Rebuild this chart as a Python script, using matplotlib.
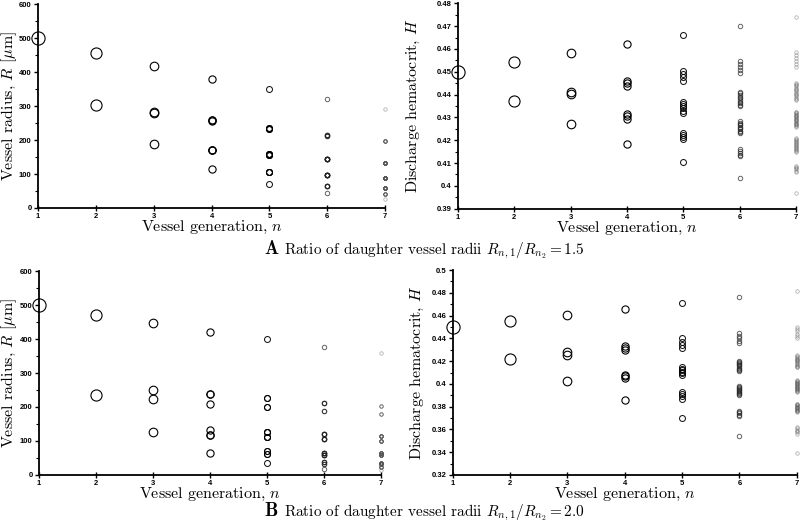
import numpy as np
import matplotlib
matplotlib.use("Agg")
import matplotlib.pyplot as plt
from matplotlib.ticker import MultipleLocator, AutoMinorLocator, FormatStrFormatter

plt.rcParams['mathtext.fontset'] = 'cm'
plt.rcParams['axes.unicode_minus'] = False

generations = [1, 2, 3, 4, 5, 6, 7]

# ---- Panel A (ratio 1.5): vessel radius values and multiplicities per generation
radA_vals = [
    [500],
    [457, 304],
    [417, 281, 278, 188],
    [380, 259, 255, 172, 170, 115],
    [349, 235, 232, 158, 156, 105, 71],
    [320, 214, 212, 143, 97, 65, 43],
    [291, 196, 132, 88, 60, 41, 25],
]
radA_counts = [
    [1],
    [1, 1],
    [1, 1, 1, 1],
    [1, 2, 1, 1, 2, 1],
    [1, 2, 2, 3, 3, 4, 1],
    [1, 3, 2, 10, 10, 5, 1],
    [1, 6, 15, 20, 15, 6, 1],
]

# ---- Panel A: discharge hematocrit per generation
hemA = [
    [0.450],
    [0.4541, 0.4370],
    [0.4582, 0.4411, 0.4401, 0.4271],
    [0.4623, 0.4459, 0.4450, 0.4437, 0.4315, 0.4305, 0.4295, 0.4183],
    [0.4661, 0.4505, 0.4490, 0.4476, 0.4461, 0.4367, 0.4358, 0.4349, 0.4340,
     0.4329, 0.4319, 0.4232, 0.4222, 0.4213, 0.4204, 0.4106],
    [0.4701, 0.4547, 0.4533, 0.4520, 0.4507, 0.4494,
     0.4412, 0.4405, 0.4398, 0.4390, 0.4383, 0.4376, 0.4369, 0.4362, 0.4355, 0.4348,
     0.4283, 0.4277, 0.4271, 0.4265, 0.4259, 0.4254, 0.4248, 0.4242, 0.4237, 0.4232,
     0.4161, 0.4153, 0.4145, 0.4137, 0.4129, 0.4036],
    [0.4739,
     0.4588, 0.4575, 0.4561, 0.4549, 0.4535, 0.4522,
     0.4452, 0.4447, 0.4441, 0.4436, 0.4430, 0.4424, 0.4419, 0.4414, 0.4408,
     0.4403, 0.4397, 0.4392, 0.4386, 0.4381, 0.4376,
     0.4325, 0.4322, 0.4318, 0.4315, 0.4311, 0.4308, 0.4304, 0.4301, 0.4297, 0.4294,
     0.4290, 0.4287, 0.4283, 0.4280, 0.4276, 0.4273, 0.4269, 0.4266, 0.4262, 0.4259,
     0.4208, 0.4204, 0.4200, 0.4196, 0.4192, 0.4187, 0.4183, 0.4179, 0.4175, 0.4171,
     0.4167, 0.4163, 0.4158, 0.4154, 0.4150,
     0.4088, 0.4083, 0.4078, 0.4072, 0.4067, 0.4062,
     0.3970],
]

# ---- Panel B (ratio 2.0): vessel radius values and multiplicities per generation
radB_vals = [
    [500],
    [472, 236],
    [446, 251, 223, 125],
    [421, 238, 209, 133, 119, 66],
    [399, 226, 199, 125, 112, 71, 63, 35],
    [377, 213, 189, 121, 106, 65, 59, 37, 32, 17],
    [358, 202, 179, 114, 100, 64, 58, 36, 32, 23, 14],
]
radB_counts = [
    [1],
    [1, 1],
    [1, 1, 1, 1],
    [1, 2, 1, 1, 2, 1],
    [1, 2, 2, 3, 3, 2, 2, 1],
    [1, 3, 2, 5, 5, 5, 5, 3, 2, 1],
    [1, 3, 3, 8, 7, 10, 10, 8, 7, 6, 1],
]

# ---- Panel B: discharge hematocrit per generation
hemB = [
    [0.450],
    [0.4556, 0.4220],
    [0.4606, 0.4279, 0.4256, 0.4026],
    [0.4659, 0.4332, 0.4315, 0.4294, 0.4080, 0.4065, 0.4050, 0.3862],
    [0.4707, 0.4399, 0.4372, 0.4344, 0.4317, 0.4150, 0.4135, 0.4121, 0.4106,
     0.4092, 0.4077, 0.3930, 0.3910, 0.3890, 0.3871, 0.3704],
    [0.4760, 0.4443, 0.4421, 0.4399, 0.4377, 0.4355,
     0.4200, 0.4191, 0.4181, 0.4172, 0.4162, 0.4153, 0.4143, 0.4134, 0.4124, 0.4115,
     0.3980, 0.3972, 0.3964, 0.3955, 0.3947, 0.3939, 0.3931, 0.3922, 0.3914, 0.3906,
     0.3763, 0.3752, 0.3741, 0.3730, 0.3719, 0.3546],
    [0.4815,
     0.4502, 0.4481, 0.4461, 0.4440, 0.4420, 0.4399,
     0.4252, 0.4244, 0.4236, 0.4229, 0.4221, 0.4213, 0.4206, 0.4198, 0.4190,
     0.4183, 0.4175, 0.4167, 0.4160, 0.4152, 0.4144,
     0.4033, 0.4028, 0.4022, 0.4017, 0.4011, 0.4006, 0.4001, 0.3995, 0.3990, 0.3984,
     0.3979, 0.3974, 0.3968, 0.3963, 0.3957, 0.3952, 0.3946, 0.3941, 0.3935, 0.3930,
     0.3827, 0.3822, 0.3817, 0.3811, 0.3806, 0.3801, 0.3796, 0.3790, 0.3785, 0.3780,
     0.3775, 0.3770, 0.3764, 0.3759, 0.3754,
     0.3622, 0.3610, 0.3598, 0.3587, 0.3575, 0.3563,
     0.3393],
]

# marker styling per generation
msizes = [9.5, 8.0, 6.2, 5.2, 4.3, 3.2, 2.5]
edgecols = ['black', 'black', 'black', 'black', 'black', '#222222', '#555555']
alphas = [1, 1, 1, 1, 0.9, 0.7, 0.45]
lws = [0.8, 0.8, 0.8, 0.8, 0.75, 0.7, 0.6]

fig = plt.figure(figsize=(8, 5.23), dpi=100)

tick_font = dict(family='Liberation Sans', weight='bold', size=5.5)
label_font = dict(family='cmr10', size=11.5)
ylabel_font = dict(family='cmr10', size=11.5)
caption_font = dict(family='cmr10', size=11)


def style_axes(ax, ymin, ymax, ymajor, fmt, ylabel, ylab_x):
    ax.set_xlim(1, 7)
    ax.set_ylim(ymin, ymax)
    for s in ['top', 'right']:
        ax.spines[s].set_visible(False)
    for s in ['left', 'bottom']:
        ax.spines[s].set_linewidth(1.3)
    ax.xaxis.set_major_locator(MultipleLocator(1))
    ax.yaxis.set_major_locator(MultipleLocator(ymajor))
    ax.yaxis.set_minor_locator(AutoMinorLocator(2))
    ax.yaxis.set_major_formatter(FormatStrFormatter(fmt))
    ax.tick_params(axis='both', which='major', length=3, width=1.0, pad=1.5)
    ax.tick_params(axis='x', which='major', direction='inout', length=4, pad=1.5)
    ax.tick_params(axis='y', which='minor', length=2, width=0.8)
    for lab in ax.get_xticklabels() + ax.get_yticklabels():
        lab.set_fontfamily(tick_font['family'])
        lab.set_fontweight(tick_font['weight'])
        lab.set_fontsize(tick_font['size'])
    ax.set_xlabel('Vessel generation, $n$', fontdict=label_font, labelpad=-0.5)
    ax.set_ylabel(ylabel, fontdict=ylabel_font)
    ax.yaxis.set_label_coords(ylab_x, 0.5)


def plot_radius(ax, vals, counts):
    for g, v, c, ms, ec, a, lw in zip(generations, vals, counts, msizes, edgecols, alphas, lws):
        yv = np.repeat(np.array(v, dtype=float), c)
        ax.plot(np.full(len(yv), g), yv, 'o', ms=ms, mfc='none', mec=ec,
                mew=lw, alpha=a, clip_on=False, zorder=3)


def plot_hem(ax, vals):
    for g, v, ms, ec, a, lw in zip(generations, vals, msizes, edgecols, alphas, lws):
        yv = np.array(v, dtype=float)
        ax.plot(np.full(len(yv), g), yv, 'o', ms=ms, mfc='none', mec=ec,
                mew=lw, alpha=a, clip_on=False, zorder=3)


rad_label = r'Vessel radius, $R$ [$\mu$m]'
hem_label = r'Discharge hematocrit, $H$'

# Top-left
ax1 = fig.add_axes([0.0475, 0.6023, 0.434, 0.390])
plot_radius(ax1, radA_vals, radA_counts)
style_axes(ax1, 0, 600, 100, '%d', rad_label, -0.056)

# Top-right
ax2 = fig.add_axes([0.5725, 0.601, 0.4225, 0.3927])
plot_hem(ax2, hemA)
style_axes(ax2, 0.39, 0.48, 0.01, '%g', hem_label, -0.106)

# Bottom-left
ax3 = fig.add_axes([0.04875, 0.0918, 0.4275, 0.390])
plot_radius(ax3, radB_vals, radB_counts)
style_axes(ax3, 0, 600, 100, '%d', rad_label, -0.058)

# Bottom-right
ax4 = fig.add_axes([0.566, 0.0918, 0.43, 0.3919])
plot_hem(ax4, hemB)
style_axes(ax4, 0.32, 0.50, 0.02, '%g', hem_label, -0.078)

# Captions
fig.text(264 / 800, 1 - 254 / 523, r'$\mathbf{A}$', fontsize=13.5, ha='left', va='baseline')
fig.text(284 / 800, 1 - 254 / 523, r'Ratio of daughter vessel radii $R_{n,1}/R_{n_2} = 1.5$',
         fontdict=caption_font, ha='left', va='baseline')
fig.text(264 / 800, 1 - 516.5 / 523, r'$\mathbf{B}$', fontsize=13.5, ha='left', va='baseline')
fig.text(284 / 800, 1 - 516.5 / 523, r'Ratio of daughter vessel radii $R_{n,1}/R_{n_2} = 2.0$',
         fontdict=caption_font, ha='left', va='baseline')

fig.savefig('out.png', dpi=100)
